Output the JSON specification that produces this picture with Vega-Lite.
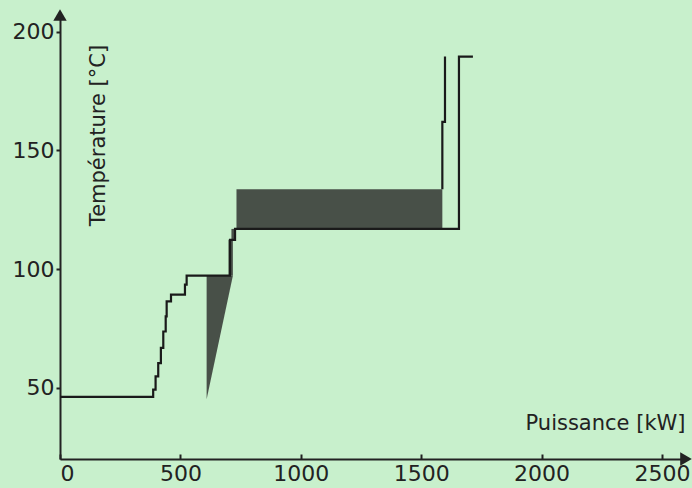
{
  "$schema": "https://vega.github.io/schema/vega-lite/v6.json",
  "autosize": {"type": "none"},
  "padding": {"left": 60, "top": 15, "right": 6, "bottom": 29},
  "width": 626,
  "height": 444,
  "background": "#c8f0cc",
  "config": {
    "view": {"stroke": null},
    "font": "DejaVu Sans",
    "axis": {
      "grid": false,
      "domainColor": "#222",
      "domainWidth": 2,
      "tickColor": "#222",
      "tickWidth": 2,
      "labelFont": "DejaVu Sans",
      "labelFontSize": 22,
      "labelColor": "#222",
      "titleFont": "DejaVu Sans",
      "titleFontSize": 21,
      "titleFontWeight": "normal",
      "titleColor": "#222"
    }
  },
  "datasets": {
    "cold": [
      {"o": 1, "kW": 0, "T": 46.2},
      {"o": 2, "kW": 387, "T": 46.2},
      {"o": 3, "kW": 387, "T": 49.2},
      {"o": 4, "kW": 397, "T": 49.2},
      {"o": 5, "kW": 397, "T": 54.8},
      {"o": 6, "kW": 408, "T": 54.8},
      {"o": 7, "kW": 408, "T": 60.4},
      {"o": 8, "kW": 419, "T": 60.4},
      {"o": 9, "kW": 419, "T": 66.8},
      {"o": 10, "kW": 429, "T": 66.8},
      {"o": 11, "kW": 429, "T": 73.7},
      {"o": 12, "kW": 439, "T": 73.7},
      {"o": 13, "kW": 439, "T": 80.1},
      {"o": 14, "kW": 443, "T": 80.1},
      {"o": 15, "kW": 443, "T": 86.4},
      {"o": 16, "kW": 461, "T": 86.4},
      {"o": 17, "kW": 461, "T": 89.2},
      {"o": 18, "kW": 519, "T": 89.2},
      {"o": 19, "kW": 519, "T": 93.4},
      {"o": 20, "kW": 526, "T": 93.4},
      {"o": 21, "kW": 526, "T": 97.2},
      {"o": 22, "kW": 706, "T": 97.2},
      {"o": 23, "kW": 706, "T": 112.3},
      {"o": 24, "kW": 727, "T": 112.3},
      {"o": 25, "kW": 727, "T": 116.9},
      {"o": 26, "kW": 1657, "T": 116.9},
      {"o": 27, "kW": 1657, "T": 189.5},
      {"o": 28, "kW": 1715, "T": 189.5}
    ],
    "hot": [
      {"o": 1, "kW": 1599, "T": 189.5},
      {"o": 2, "kW": 1599, "T": 162},
      {"o": 3, "kW": 1588, "T": 162},
      {"o": 4, "kW": 1588, "T": 133.6}
    ],
    "tri": [
      {"kW": 609, "T1": 45.2, "T2": 97.2},
      {"kW": 718, "T1": 97.2, "T2": 97.2}
    ],
    "blocks": [
      {"k1": 700, "k2": 718, "T1": 97.2, "T2": 112.3},
      {"k1": 712, "k2": 731, "T1": 112.3, "T2": 116.9},
      {"k1": 733, "k2": 1588, "T1": 116.9, "T2": 133.6}
    ],
    "arrows": [
      {"kW": 0, "T": 207, "shape": "triangle-up"},
      {"kW": 2600, "T": 20, "shape": "triangle-right"}
    ]
  },
  "layer": [
    {
      "data": {"name": "tri"},
      "mark": {"type": "area", "fill": "#3d423d", "opacity": 0.92},
      "encoding": {
        "x": {"field": "kW", "type": "quantitative", "scale": {"domain": [0, 2600], "nice": false},
          "axis": {"values": [0, 500, 1000, 1500, 2000, 2500], "format": "d", "tickSize": -5, "labelPadding": 9, "title": "Puissance [kW]",
            "titleX": 625, "titleY": -36, "titleAlign": "right", "titleBaseline": "middle", "titleAngle": 0}},
        "y": {"field": "T1", "type": "quantitative", "scale": {"domain": [20, 207], "nice": false, "zero": false},
          "axis": {"values": [50, 100, 150, 200], "format": "d", "tickSize": 4, "labelPadding": 2, "title": "Température [°C]",
            "titleAngle": 270, "titleX": 38, "titleY": 120, "titleAlign": "center", "titleBaseline": "middle"}},
        "y2": {"field": "T2"}
      }
    },
    {
      "data": {"name": "blocks"},
      "mark": {"type": "rect", "fill": "#3d423d", "opacity": 0.92},
      "encoding": {
        "x": {"field": "k1", "type": "quantitative"},
        "x2": {"field": "k2"},
        "y": {"field": "T1", "type": "quantitative"},
        "y2": {"field": "T2"}
      }
    },
    {
      "data": {"name": "cold"},
      "mark": {"type": "line", "color": "#1a1a1a", "strokeWidth": 2.2, "strokeJoin": "miter"},
      "encoding": {
        "x": {"field": "kW", "type": "quantitative"},
        "y": {"field": "T", "type": "quantitative"},
        "order": {"field": "o"}
      }
    },
    {
      "data": {"name": "hot"},
      "mark": {"type": "line", "color": "#1a1a1a", "strokeWidth": 2.2, "strokeJoin": "miter"},
      "encoding": {
        "x": {"field": "kW", "type": "quantitative"},
        "y": {"field": "T", "type": "quantitative"},
        "order": {"field": "o"}
      }
    },
    {
      "data": {"name": "arrows"},
      "mark": {"type": "point", "filled": true, "color": "#222", "size": 180, "opacity": 1},
      "encoding": {
        "x": {"field": "kW", "type": "quantitative"},
        "y": {"field": "T", "type": "quantitative"},
        "shape": {"field": "shape", "type": "nominal", "scale": null, "legend": null}
      }
    }
  ]
}
